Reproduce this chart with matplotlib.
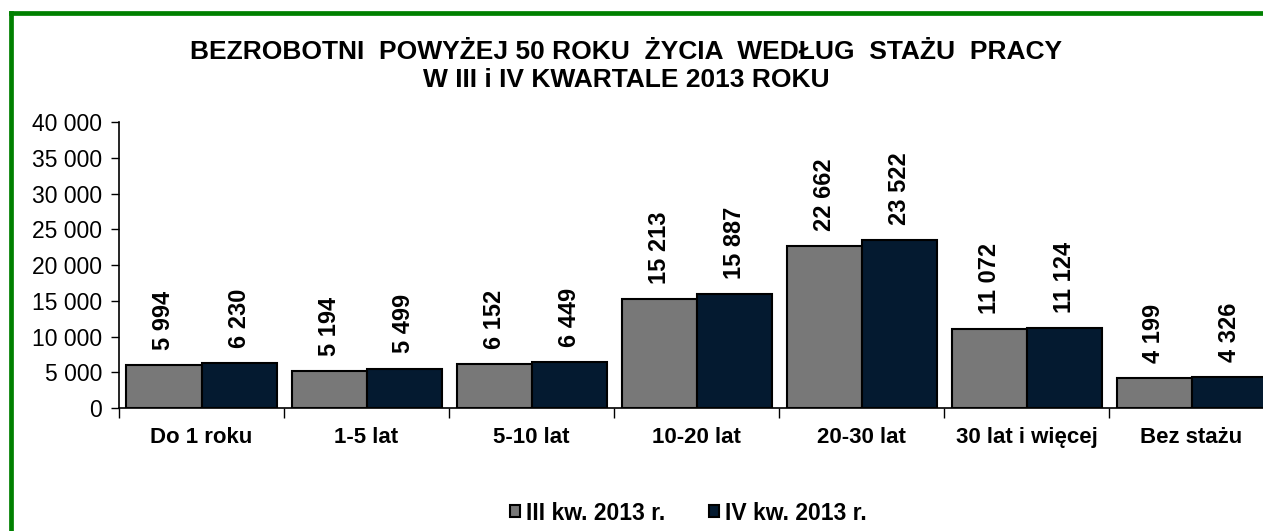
import matplotlib
matplotlib.use("Agg")
import matplotlib.pyplot as plt
from matplotlib.lines import Line2D
from matplotlib.patches import Patch
from matplotlib.ticker import FuncFormatter, MultipleLocator, FixedLocator
import numpy as np

plt.rcParams['font.family'] = ['Liberation Sans', 'DejaVu Sans']

categories = ["Do 1 roku", "1-5 lat", "5-10 lat", "10-20 lat", "20-30 lat", "30 lat i więcej", "Bez stażu"]
series_names = ["III kw. 2013 r.", "IV kw. 2013 r."]
q3_values = [5994, 5194, 6152, 15213, 22662, 11072, 4199]
q4_values = [6230, 5499, 6449, 15887, 23522, 11124, 4326]
title = "BEZROBOTNI  POWYŻEJ 50 ROKU  ŻYCIA  WEDŁUG  STAŻU  PRACY\nW III i IV KWARTALE 2013 ROKU"

colors = ["#787878", "#041a30"]

W, H = 1263, 531
fig = plt.figure(figsize=(W / 100, H / 100), dpi=100)
fig.patch.set_facecolor("white")

ax = fig.add_axes([119 / W, 1 - 408 / H, 1155 / W, 286 / H])

x = np.arange(len(categories))
w = 75 / 165
for vals, col, off in [(q3_values, colors[0], -w / 2), (q4_values, colors[1], w / 2)]:
    bars = ax.bar(x + off, vals, width=w, color=col, edgecolor="black", linewidth=1.5, zorder=3)
    for b, v in zip(bars, vals):
        lab = f"{v:,}".replace(",", " ")
        ax.annotate(lab, (b.get_x() + b.get_width() / 2, v), xytext=(0, 11),
                    textcoords="offset points", rotation=90, ha="center", va="bottom",
                    fontsize=17, fontweight="bold", color="black")

ax.set_xlim(-0.5, len(categories) - 0.5)
ax.set_ylim(0, 40000)
ax.yaxis.set_major_locator(MultipleLocator(5000))
ax.yaxis.set_major_formatter(FuncFormatter(lambda v, p: f"{int(v):,}".replace(",", " ")))
ax.tick_params(axis="y", labelsize=16.5, length=6, width=1, direction="out", pad=6)

ax.xaxis.set_major_locator(FixedLocator(np.arange(-0.5, len(categories), 1.0)))
ax.xaxis.set_minor_locator(FixedLocator(x))
ax.set_xticklabels([])
ax.set_xticklabels(categories, minor=True, fontsize=16, fontweight="bold")
ax.tick_params(axis="x", which="major", length=7, width=1, direction="out")
ax.tick_params(axis="x", which="minor", length=0, pad=14)

for s in ["top", "right"]:
    ax.spines[s].set_visible(False)
for s in ["left", "bottom"]:
    ax.spines[s].set_linewidth(1.2)
    ax.spines[s].set_color("black")

fig.text(626 / W, 1 - 66 / H, title, ha="center", va="center", fontsize=19,
         fontweight="bold", linespacing=1.2)

handles = [Patch(facecolor=colors[0], edgecolor="black", linewidth=1.5),
           Patch(facecolor=colors[1], edgecolor="black", linewidth=1.5)]
fig.legend(handles, series_names, loc="center", bbox_to_anchor=(688 / W, 1 - 513 / H),
           ncol=2, frameon=False, prop={"size": 16.5, "weight": "bold"},
           handlelength=0.45, handleheight=0.45, handletextpad=0.25, columnspacing=1.9)

green = "#008000"
fig.add_artist(Line2D([10.5 / W, 10.5 / W], [-0.05, 1 - 12.5 / H], transform=fig.transFigure,
                      color=green, linewidth=3.4, solid_capstyle="projecting"))
fig.add_artist(Line2D([10.5 / W, 1.05], [1 - 12.5 / H, 1 - 12.5 / H], transform=fig.transFigure,
                      color=green, linewidth=3.4, solid_capstyle="projecting"))

fig.savefig("out.png", dpi=100)
